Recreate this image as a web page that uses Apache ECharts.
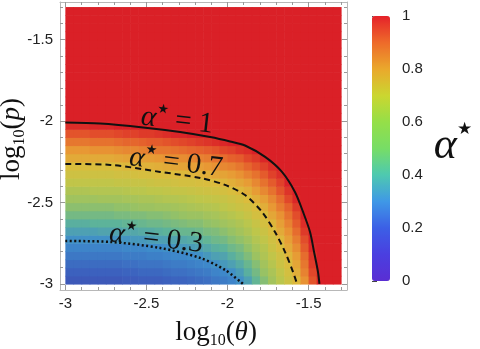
<!DOCTYPE html>
<html>
<head>
<meta charset="utf-8">
<title>alpha star map</title>
<script src="https://cdn.jsdelivr.net/npm/echarts@6.0.0/dist/echarts.min.js"></script>
<style>
  html, body { margin: 0; padding: 0; background: #fff; }
  #chart { width: 480px; height: 349px; }
</style>
</head>
<body>
<div id="chart"></div>
<script>
// cell centres, log10(theta) and log10(p)
const thetaLog = [-2.975, -2.925, -2.875, -2.825, -2.775, -2.725, -2.675, -2.625, -2.575, -2.525, -2.475, -2.425, -2.375, -2.325, -2.275, -2.225, -2.175, -2.125, -2.075, -2.025, -1.975, -1.925, -1.875, -1.825, -1.775, -1.725, -1.675, -1.625, -1.575, -1.525, -1.475, -1.425, -1.375, -1.325]
const pLog = [-2.975, -2.925, -2.875, -2.825, -2.775, -2.725, -2.675, -2.625, -2.575, -2.525, -2.475, -2.425, -2.375, -2.325, -2.275, -2.225, -2.175, -2.125, -2.075, -2.025, -1.975, -1.925, -1.875, -1.825, -1.775, -1.725, -1.675, -1.625, -1.575, -1.525, -1.475, -1.425, -1.375, -1.325]

// alpha* for each theta column, read from p = 10^-3 upwards
const alphaCols = [
  [0.16, 0.19, 0.22, 0.25, 0.28, 0.31, 0.35, 0.39, 0.44, 0.48, 0.52, 0.56, 0.61, 0.65, 0.69, 0.75, 0.80, 0.86, 0.92, 0.98, 1, 1, 1, 1, 1, 1, 1, 1, 1, 1, 1, 1, 1, 1],
  [0.16, 0.19, 0.22, 0.25, 0.28, 0.31, 0.35, 0.39, 0.44, 0.48, 0.52, 0.56, 0.61, 0.65, 0.69, 0.75, 0.80, 0.86, 0.92, 0.98, 1, 1, 1, 1, 1, 1, 1, 1, 1, 1, 1, 1, 1, 1],
  [0.16, 0.19, 0.22, 0.25, 0.28, 0.31, 0.35, 0.39, 0.44, 0.48, 0.52, 0.56, 0.61, 0.65, 0.69, 0.75, 0.80, 0.86, 0.92, 0.98, 1, 1, 1, 1, 1, 1, 1, 1, 1, 1, 1, 1, 1, 1],
  [0.16, 0.19, 0.22, 0.25, 0.28, 0.31, 0.35, 0.40, 0.44, 0.48, 0.52, 0.57, 0.61, 0.65, 0.69, 0.75, 0.81, 0.87, 0.93, 0.99, 1, 1, 1, 1, 1, 1, 1, 1, 1, 1, 1, 1, 1, 1],
  [0.16, 0.19, 0.22, 0.25, 0.28, 0.31, 0.36, 0.40, 0.44, 0.48, 0.53, 0.57, 0.61, 0.65, 0.69, 0.75, 0.81, 0.87, 0.93, 0.99, 1, 1, 1, 1, 1, 1, 1, 1, 1, 1, 1, 1, 1, 1],
  [0.16, 0.19, 0.22, 0.25, 0.28, 0.31, 0.36, 0.40, 0.44, 0.48, 0.53, 0.57, 0.61, 0.65, 0.69, 0.75, 0.81, 0.87, 0.93, 0.99, 1, 1, 1, 1, 1, 1, 1, 1, 1, 1, 1, 1, 1, 1],
  [0.16, 0.19, 0.22, 0.25, 0.28, 0.32, 0.36, 0.40, 0.45, 0.49, 0.53, 0.57, 0.62, 0.66, 0.70, 0.76, 0.82, 0.88, 0.94, 1, 1, 1, 1, 1, 1, 1, 1, 1, 1, 1, 1, 1, 1, 1],
  [0.17, 0.20, 0.23, 0.26, 0.29, 0.32, 0.37, 0.41, 0.45, 0.49, 0.54, 0.58, 0.62, 0.66, 0.71, 0.77, 0.83, 0.89, 0.95, 1, 1, 1, 1, 1, 1, 1, 1, 1, 1, 1, 1, 1, 1, 1],
  [0.17, 0.20, 0.23, 0.26, 0.29, 0.33, 0.37, 0.41, 0.46, 0.50, 0.54, 0.59, 0.63, 0.67, 0.72, 0.78, 0.83, 0.89, 0.95, 1, 1, 1, 1, 1, 1, 1, 1, 1, 1, 1, 1, 1, 1, 1],
  [0.18, 0.21, 0.24, 0.26, 0.29, 0.33, 0.38, 0.42, 0.46, 0.51, 0.55, 0.59, 0.63, 0.68, 0.73, 0.78, 0.84, 0.90, 0.96, 1, 1, 1, 1, 1, 1, 1, 1, 1, 1, 1, 1, 1, 1, 1],
  [0.18, 0.21, 0.24, 0.27, 0.30, 0.34, 0.38, 0.43, 0.47, 0.51, 0.55, 0.60, 0.64, 0.68, 0.73, 0.79, 0.85, 0.91, 0.96, 1, 1, 1, 1, 1, 1, 1, 1, 1, 1, 1, 1, 1, 1, 1],
  [0.18, 0.21, 0.24, 0.27, 0.30, 0.35, 0.39, 0.43, 0.47, 0.52, 0.56, 0.60, 0.65, 0.69, 0.74, 0.80, 0.86, 0.91, 0.97, 1, 1, 1, 1, 1, 1, 1, 1, 1, 1, 1, 1, 1, 1, 1],
  [0.19, 0.22, 0.25, 0.28, 0.31, 0.35, 0.40, 0.44, 0.48, 0.52, 0.57, 0.61, 0.65, 0.69, 0.75, 0.81, 0.86, 0.92, 0.98, 1, 1, 1, 1, 1, 1, 1, 1, 1, 1, 1, 1, 1, 1, 1],
  [0.20, 0.23, 0.26, 0.29, 0.32, 0.36, 0.41, 0.45, 0.49, 0.53, 0.57, 0.62, 0.66, 0.70, 0.76, 0.82, 0.87, 0.93, 0.99, 1, 1, 1, 1, 1, 1, 1, 1, 1, 1, 1, 1, 1, 1, 1],
  [0.20, 0.23, 0.26, 0.29, 0.33, 0.37, 0.42, 0.46, 0.50, 0.54, 0.58, 0.62, 0.67, 0.71, 0.77, 0.82, 0.88, 0.94, 0.99, 1, 1, 1, 1, 1, 1, 1, 1, 1, 1, 1, 1, 1, 1, 1],
  [0.21, 0.24, 0.27, 0.30, 0.34, 0.38, 0.42, 0.47, 0.51, 0.55, 0.59, 0.63, 0.67, 0.72, 0.78, 0.83, 0.89, 0.95, 1, 1, 1, 1, 1, 1, 1, 1, 1, 1, 1, 1, 1, 1, 1, 1],
  [0.22, 0.25, 0.28, 0.31, 0.35, 0.39, 0.43, 0.47, 0.51, 0.56, 0.60, 0.64, 0.68, 0.73, 0.78, 0.84, 0.90, 0.96, 1, 1, 1, 1, 1, 1, 1, 1, 1, 1, 1, 1, 1, 1, 1, 1],
  [0.23, 0.26, 0.29, 0.33, 0.37, 0.41, 0.45, 0.49, 0.53, 0.57, 0.61, 0.65, 0.69, 0.74, 0.80, 0.85, 0.91, 0.97, 1, 1, 1, 1, 1, 1, 1, 1, 1, 1, 1, 1, 1, 1, 1, 1],
  [0.25, 0.28, 0.31, 0.35, 0.39, 0.43, 0.46, 0.50, 0.54, 0.58, 0.62, 0.66, 0.70, 0.76, 0.81, 0.87, 0.92, 0.98, 1, 1, 1, 1, 1, 1, 1, 1, 1, 1, 1, 1, 1, 1, 1, 1],
  [0.26, 0.29, 0.33, 0.36, 0.40, 0.44, 0.48, 0.52, 0.56, 0.60, 0.63, 0.67, 0.72, 0.77, 0.83, 0.88, 0.94, 0.99, 1, 1, 1, 1, 1, 1, 1, 1, 1, 1, 1, 1, 1, 1, 1, 1],
  [0.28, 0.31, 0.35, 0.39, 0.43, 0.47, 0.50, 0.54, 0.58, 0.62, 0.65, 0.69, 0.74, 0.79, 0.84, 0.90, 0.95, 1, 1, 1, 1, 1, 1, 1, 1, 1, 1, 1, 1, 1, 1, 1, 1, 1],
  [0.31, 0.34, 0.38, 0.42, 0.45, 0.49, 0.53, 0.56, 0.60, 0.64, 0.67, 0.71, 0.76, 0.81, 0.86, 0.91, 0.97, 1, 1, 1, 1, 1, 1, 1, 1, 1, 1, 1, 1, 1, 1, 1, 1, 1],
  [0.35, 0.39, 0.42, 0.46, 0.49, 0.52, 0.56, 0.59, 0.63, 0.66, 0.70, 0.74, 0.79, 0.84, 0.89, 0.94, 0.98, 1, 1, 1, 1, 1, 1, 1, 1, 1, 1, 1, 1, 1, 1, 1, 1, 1],
  [0.41, 0.44, 0.47, 0.51, 0.54, 0.57, 0.60, 0.63, 0.67, 0.70, 0.74, 0.79, 0.83, 0.87, 0.92, 0.96, 1, 1, 1, 1, 1, 1, 1, 1, 1, 1, 1, 1, 1, 1, 1, 1, 1, 1],
  [0.47, 0.50, 0.53, 0.56, 0.58, 0.61, 0.64, 0.67, 0.70, 0.74, 0.78, 0.83, 0.87, 0.91, 0.95, 0.99, 1, 1, 1, 1, 1, 1, 1, 1, 1, 1, 1, 1, 1, 1, 1, 1, 1, 1],
  [0.53, 0.55, 0.58, 0.61, 0.64, 0.66, 0.69, 0.72, 0.76, 0.80, 0.83, 0.87, 0.91, 0.95, 0.98, 1, 1, 1, 1, 1, 1, 1, 1, 1, 1, 1, 1, 1, 1, 1, 1, 1, 1, 1],
  [0.59, 0.61, 0.64, 0.66, 0.69, 0.71, 0.75, 0.78, 0.81, 0.85, 0.88, 0.92, 0.95, 0.98, 1, 1, 1, 1, 1, 1, 1, 1, 1, 1, 1, 1, 1, 1, 1, 1, 1, 1, 1, 1],
  [0.65, 0.67, 0.69, 0.72, 0.75, 0.78, 0.81, 0.84, 0.87, 0.90, 0.94, 0.97, 1, 1, 1, 1, 1, 1, 1, 1, 1, 1, 1, 1, 1, 1, 1, 1, 1, 1, 1, 1, 1, 1],
  [0.71, 0.74, 0.76, 0.79, 0.82, 0.85, 0.88, 0.91, 0.93, 0.96, 0.99, 1, 1, 1, 1, 1, 1, 1, 1, 1, 1, 1, 1, 1, 1, 1, 1, 1, 1, 1, 1, 1, 1, 1],
  [0.81, 0.84, 0.86, 0.88, 0.91, 0.93, 0.96, 0.98, 1, 1, 1, 1, 1, 1, 1, 1, 1, 1, 1, 1, 1, 1, 1, 1, 1, 1, 1, 1, 1, 1, 1, 1, 1, 1],
  [0.92, 0.94, 0.96, 0.97, 0.99, 1, 1, 1, 1, 1, 1, 1, 1, 1, 1, 1, 1, 1, 1, 1, 1, 1, 1, 1, 1, 1, 1, 1, 1, 1, 1, 1, 1, 1],
  [1, 1, 1, 1, 1, 1, 1, 1, 1, 1, 1, 1, 1, 1, 1, 1, 1, 1, 1, 1, 1, 1, 1, 1, 1, 1, 1, 1, 1, 1, 1, 1, 1, 1],
  [1, 1, 1, 1, 1, 1, 1, 1, 1, 1, 1, 1, 1, 1, 1, 1, 1, 1, 1, 1, 1, 1, 1, 1, 1, 1, 1, 1, 1, 1, 1, 1, 1, 1],
  [1, 1, 1, 1, 1, 1, 1, 1, 1, 1, 1, 1, 1, 1, 1, 1, 1, 1, 1, 1, 1, 1, 1, 1, 1, 1, 1, 1, 1, 1, 1, 1, 1, 1]
]

// contour lines [log10(theta), log10(p)]
const contour1 = [[-3, -2.009], [-2.785, -2.015], [-2.52, -2.039], [-2.292, -2.067], [-2.107, -2.098], [-1.984, -2.125], [-1.892, -2.15], [-1.768, -2.22], [-1.664, -2.312], [-1.584, -2.435], [-1.534, -2.558], [-1.491, -2.681], [-1.466, -2.804], [-1.442, -2.926], [-1.433, -3]]
const contour07 = [[-3, -2.263], [-2.723, -2.269], [-2.415, -2.312], [-2.169, -2.349], [-2.015, -2.392], [-1.892, -2.454], [-1.787, -2.558], [-1.707, -2.681], [-1.645, -2.804], [-1.596, -2.926], [-1.571, -3]]
const contour03 = [[-3, -2.736], [-2.723, -2.742], [-2.415, -2.779], [-2.169, -2.84], [-2.015, -2.914], [-1.904, -3]]

const majorTicks = [-3, -2.5, -2, -1.5]
const minorTicks = [-2.9, -2.8, -2.7, -2.6, -2.4, -2.3, -2.2, -2.1, -1.9, -1.8, -1.7, -1.6, -1.4, -1.3]

const CELL = 0.05
// frame is padded a few pixels around the data range
const X_MIN = -3.033
const X_MAX = -1.263
const Y_MIN = -3.037
const Y_MAX = -1.269

const SANS = 'Liberation Sans, Arial, sans-serif'
const SERIF = 'Liberation Serif, Times New Roman, serif'
const FRAME = '#b8b8b8'

const cells = []
thetaLog.forEach((t, i) => {
  pLog.forEach((p, j) => {
    cells.push([t, p, alphaCols[i][j]])
  })
})

function renderCell(params, api) {
  const corner = api.coord([api.value(0) - CELL / 2, api.value(1) + CELL / 2])
  const size = api.size([CELL, CELL])
  return {
    type: 'rect',
    shape: { x: corner[0], y: corner[1], width: size[0] + 0.6, height: size[1] + 0.6 },
    style: { fill: api.visual('color') }
  }
}

function frameAxis(dim, position, ticks, len, showLine, showLabel) {
  return {
    type: 'value',
    position,
    min: dim === 'x' ? X_MIN : Y_MIN,
    max: dim === 'x' ? X_MAX : Y_MAX,
    axisLine: { show: showLine, onZero: false, lineStyle: { color: FRAME } },
    axisTick: { inside: true, length: len, customValues: ticks, lineStyle: { color: '#999' } },
    axisLabel: {
      show: showLabel,
      customValues: ticks,
      margin: dim === 'x' ? 6 : 7,
      fontSize: 15,
      fontFamily: SANS,
      color: '#222'
    },
    splitLine: { show: false }
  }
}

const mathRich = {
  i: { fontFamily: SERIF, fontStyle: 'italic', fontSize: 29, lineHeight: 32, fill: '#111' },
  s: { fontFamily: 'DejaVu Sans', fontSize: 13, lineHeight: 24, verticalAlign: 'top', fill: '#111' },
  t: { fontFamily: SERIF, fontSize: 29, lineHeight: 32, fill: '#111' }
}
const titleRich = {
  t: { fontFamily: SERIF, fontSize: 27, lineHeight: 32, fill: '#111' },
  i: { fontFamily: SERIF, fontStyle: 'italic', fontSize: 27, lineHeight: 32, fill: '#111' },
  b: { fontFamily: SERIF, fontSize: 16, lineHeight: 13, verticalAlign: 'bottom', fill: '#111' }
}

function mathText(x, y, rotation, text, rich) {
  return {
    type: 'text', x, y, rotation, z: 100,
    style: { text, rich, align: 'center', verticalAlign: 'middle', fill: '#111' }
  }
}

const chart = echarts.init(document.getElementById('chart'))
chart.setOption({
  animation: false,
  grid: [
    { left: 60, top: 2, width: 287, height: 288 },
    { left: 372, top: 16, width: 18, height: 265 }
  ],
  xAxis: [
    frameAxis('x', 'bottom', majorTicks, 5, true, true),
    frameAxis('x', 'top', majorTicks, 5, true, false),
    frameAxis('x', 'bottom', minorTicks, 3, false, false),
    frameAxis('x', 'top', minorTicks, 3, false, false),
    { gridIndex: 1, type: 'value', min: 0, max: 1, show: false }
  ],
  yAxis: [
    frameAxis('y', 'left', majorTicks, 5, true, true),
    frameAxis('y', 'right', majorTicks, 5, true, false),
    frameAxis('y', 'left', minorTicks, 3, false, false),
    frameAxis('y', 'right', minorTicks, 3, false, false),
    {
      gridIndex: 1,
      type: 'value',
      position: 'right',
      min: 0,
      max: 1,
      interval: 0.2,
      axisLine: { show: false },
      axisTick: { show: true, length: 5, lineStyle: { color: '#444' } },
      minorTick: { show: true, splitNumber: 2, length: 3, lineStyle: { color: '#444' } },
      axisLabel: { margin: 12, fontSize: 15, fontFamily: SANS, color: '#222' },
      splitLine: { show: false }
    }
  ],
  visualMap: [
    {
      show: false,
      seriesIndex: 0,
      dimension: 2,
      min: 0,
      max: 1,
      inRange: {
        color: ['#4a35a6', '#3f48b0', '#3c64bf', '#3e8ccb', '#5db39a', '#98c264', '#bec64a', '#dcbc3c', '#e89834', '#e5612c', '#da2027']
      }
    },
    {
      type: 'continuous',
      seriesIndex: 4,
      min: 0,
      max: 1,
      left: 372,
      top: 16,
      padding: 0,
      itemWidth: 18,
      itemHeight: 265,
      calculable: false,
      hoverLink: false,
      inRange: {
        color: ['#5a2ed3', '#4a3fe0', '#3c5fe6', '#3f98e6', '#4ec9b0', '#77dd66', '#95df48', '#cbd630', '#eaa82c', '#ee6a2a', '#e5222a']
      }
    }
  ],
  series: [
    {
      type: 'custom',
      xAxisIndex: 0,
      yAxisIndex: 0,
      renderItem: renderCell,
      data: cells,
      silent: true
    },
    {
      type: 'line',
      data: contour1,
      smooth: 0.3,
      symbol: 'none',
      lineStyle: { color: '#111', width: 2 }
    },
    {
      type: 'line',
      data: contour07,
      smooth: 0.3,
      symbol: 'none',
      lineStyle: { color: '#111', width: 2, type: [6, 4] }
    },
    {
      type: 'line',
      data: contour03,
      smooth: 0.3,
      symbol: 'none',
      lineStyle: { color: '#111', width: 2.5, type: [2, 2.5] }
    },
    {
      type: 'scatter',
      xAxisIndex: 4,
      yAxisIndex: 4,
      data: [],
      silent: true
    }
  ],
  graphic: [
    mathText(177, 121, -0.11, '{i|α}{s|★}{t| = 1}', mathRich),
    mathText(176, 163, -0.12, '{i|α}{s|★}{t| = 0.7}', mathRich),
    mathText(156, 239, -0.117, '{i|α}{s|★}{t| = 0.3}', mathRich),
    mathText(216, 333, 0, '{t|log}{b|10}{t|(}{i|θ}{t|)}', titleRich),
    mathText(12, 139, Math.PI / 2, '{t|log}{b|10}{t|(}{i|p}{t|)}', titleRich),
    mathText(453, 146, 0, '{i|α}{s|★}', {
      i: { fontFamily: SERIF, fontStyle: 'italic', fontSize: 44, lineHeight: 50, fill: '#111' },
      s: { fontFamily: 'DejaVu Sans', fontSize: 17, lineHeight: 18, verticalAlign: 'top', fill: '#111' }
    })
  ]
})
</script>
</body>
</html>
